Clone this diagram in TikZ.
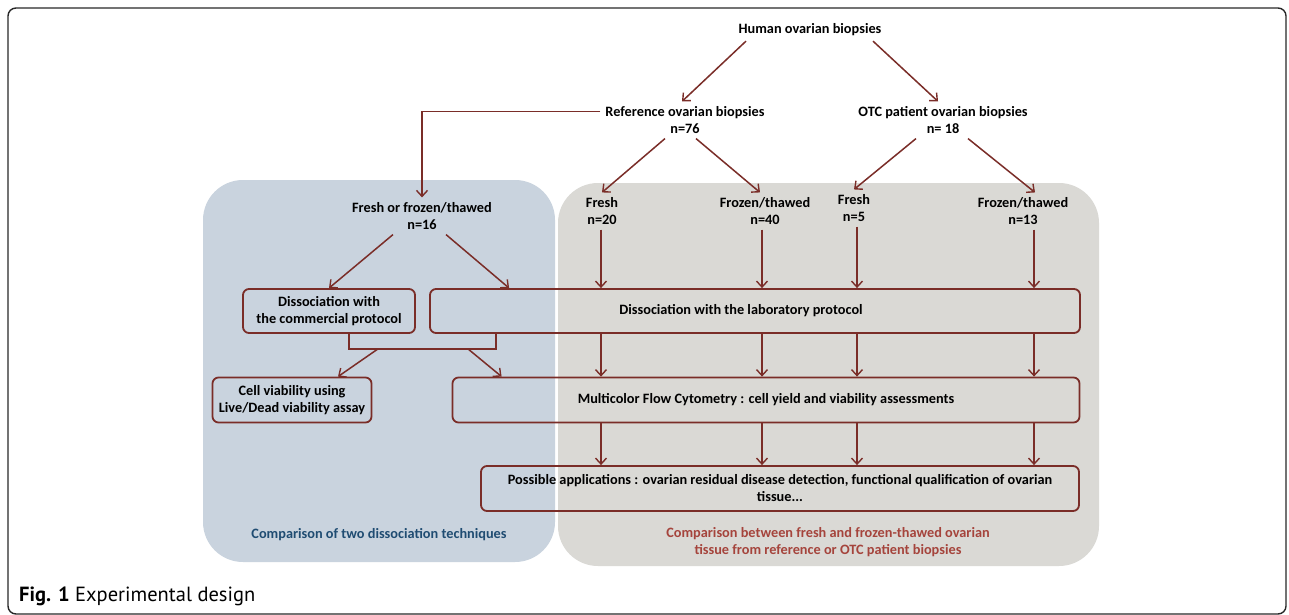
\documentclass[tikz,border=0pt]{standalone}
\usepackage{fontspec}
\setmainfont{Carlito}
\newfontfamily\capfont{PT Sans}
\usetikzlibrary{arrows.meta}
\definecolor{arc}{RGB}{122,45,40}
\definecolor{bluereg}{RGB}{201,211,222}
\definecolor{grayreg}{RGB}{218,217,213}
\definecolor{bluetxt}{RGB}{31,76,114}
\definecolor{redtxt}{RGB}{165,68,60}
\definecolor{framec}{RGB}{40,40,40}
\tikzset{
  lbl/.style={font=\fontsize{14.3}{17}\selectfont\bfseries, align=center, inner sep=1.5pt, outer sep=3.5pt},
  boxn/.style={draw=arc, line width=1.8pt, rounded corners=6pt, font=\fontsize{14.3}{17}\selectfont\bfseries, align=center, inner sep=2pt},
  arr/.style={draw=arc, line width=1.5pt, -{Straight Barb[length=6pt,width=11pt,line width=1.4pt]}},
  link/.style={draw=arc, line width=1.6pt},
  region/.style={rounded corners=40pt},
}
\begin{document}
\begin{tikzpicture}[x=1pt,y=-1pt]
\useasboundingbox (0,0) rectangle (1289,615);
\fill[white] (0,0) rectangle (1289,615);
% frame
\draw[framec, line width=1.4pt, rounded corners=8pt] (8,8) rectangle (1286,614);
% regions
\fill[grayreg, region] (558,183) rectangle (1099,566);
\fill[bluereg, region] (203,180) rectangle (555,562);
% column coordinates
\coordinate (k1) at (601,0);
\coordinate (k2) at (762,0);
\coordinate (k3) at (857,0);
\coordinate (k4) at (1034,0);
% text nodes
\node[lbl] (human) at (810,30) {Human ovarian biopsies};
\node[lbl] (ref) at (685,120) {Reference ovarian biopsies\\n=76};
\node[lbl] (otc) at (943,120) {OTC patient ovarian biopsies\\n= 18};
\node[lbl] (fof) at (422,216) {Fresh or frozen/thawed\\n=16};
\node[lbl] (f20) at (602,211) {Fresh\\n=20};
\node[lbl] (f40) at (765,211) {Frozen/thawed\\n=40};
\node[lbl] (f5) at (854,208) {Fresh\\n=5};
\node[lbl] (f13) at (1023,211) {Frozen/thawed\\n=13};
% boxes
\node[boxn, minimum width=172pt, minimum height=44pt] (comm) at (329,311) {Dissociation with\\the commercial protocol};
\node[boxn, minimum width=650pt, minimum height=44pt] (lab) at (755,311) {Dissociation with the laboratory protocol\hspace*{28pt}};
\node[boxn, minimum width=159pt, minimum height=45pt] (cell) at (292,400) {Cell viability using\\Live/Dead viability assay};
\node[boxn, minimum width=627pt, minimum height=45pt] (mfc) at (766,400) {Multicolor Flow Cytometry : cell yield and viability assessments};
\node[boxn, minimum width=598pt, minimum height=45pt] (poss) at (780,488.5) {Possible applications : ovarian residual disease detection, functional qualification of ovarian\\tissue...};
% captions
\node[font=\fontsize{14.3}{17}\selectfont\bfseries, text=bluetxt] (capb) at (379,535) {Comparison of two dissociation techniques};
\node[font=\fontsize{14.3}{17}\selectfont\bfseries, text=redtxt, align=center] (capr) at (828,542) {Comparison between fresh and frozen-thawed ovarian\\tissue from reference or OTC patient biopsies};
\node[anchor=west, font=\fontsize{20.5}{22}\capfont, inner sep=0pt] (fig) at (19,596) {\textbf{Fig. 1} Experimental design};
% connectors
\draw[arr] ([xshift=-64pt]human.south) -- ([xshift=-3pt]ref.north);
\draw[arr] ([xshift=63pt]human.south) -- ([xshift=-5pt]otc.north);
\draw[arr] ([yshift=8.5pt]ref.west) -| (fof.north);
\draw[arr] ([xshift=-20pt]ref.south) -- (f20.north);
\draw[arr] ([xshift=11pt]ref.south) -- ([xshift=-5pt]f40.north);
\draw[arr] ([xshift=-27pt]otc.south) -- (f5.north);
\draw[arr] ([xshift=25pt]otc.south) -- ([xshift=12pt]f13.north);
\draw[arr] ([xshift=-29pt]fof.south) -- (comm.north);
\draw[arr] ([xshift=24pt]fof.south) -- ([xshift=80pt]lab.north west);
\draw[arr] (f20.south -| k1) -- (lab.north -| k1);
\draw[arr] (f40.south -| k2) -- (lab.north -| k2);
\draw[arr] (f5.south -| k3) -- (lab.north -| k3);
\draw[arr] (f13.south -| k4) -- (lab.north -| k4);
\draw[arr] (lab.south -| k1) -- (mfc.north -| k1);
\draw[arr] (lab.south -| k2) -- (mfc.north -| k2);
\draw[arr] (lab.south -| k3) -- (mfc.north -| k3);
\draw[arr] (lab.south -| k4) -- (mfc.north -| k4);
\draw[arr] (mfc.south -| k1) -- (poss.north -| k1);
\draw[arr] (mfc.south -| k2) -- (poss.north -| k2);
\draw[arr] (mfc.south -| k3) -- (poss.north -| k3);
\draw[arr] (mfc.south -| k4) -- (poss.north -| k4);
% bracket joining both dissociation boxes
\path ([xshift=20pt]comm.south) ++(0,15) coordinate (brL);
\draw[link] ([xshift=20pt]comm.south) -- (brL) -| ([xshift=67pt]lab.south west);
\draw[arr] ([xshift=29pt]brL) -- ([xshift=46pt]cell.north);
\draw[arr] ([xshift=119pt]brL) -- ([xshift=50pt]mfc.north west);
\end{tikzpicture}
\end{document}
